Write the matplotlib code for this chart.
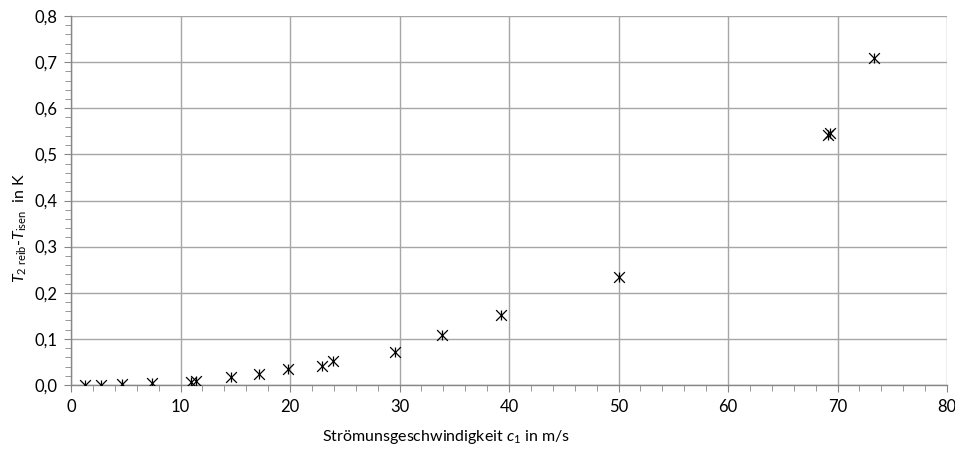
import numpy as np
import matplotlib
matplotlib.use("Agg")
import matplotlib.pyplot as plt
from matplotlib.ticker import MultipleLocator, FuncFormatter

# Messwerte
geschw = [1.3, 2.7, 4.7, 7.4, 11.0, 11.4, 14.65, 17.2, 19.8, 22.9, 23.9,
          29.6, 33.9, 39.3, 50.0, 69.1, 69.3, 73.3]
delta_t = [0.001, 0.001, 0.002, 0.005, 0.007, 0.009, 0.018, 0.023, 0.035, 0.042, 0.053,
           0.071, 0.109, 0.151, 0.234, 0.541, 0.546, 0.709]

plt.rcParams['font.family'] = ['Lato', 'DejaVu Sans']
plt.rcParams['mathtext.fontset'] = 'custom'
plt.rcParams['mathtext.rm'] = 'Lato'
plt.rcParams['mathtext.it'] = 'Lato:italic'

fig = plt.figure(figsize=(9.55, 4.5), dpi=100)
# Plotbereich: x 71..947 px, y 16..385 px
ax = fig.add_axes([71 / 955, 1 - 385 / 450, 876 / 955, 369 / 450])

achse = '#868686'
gitter = '#a6a6a6'

ax.scatter(geschw, delta_t, marker='x', s=60, color='black', linewidths=0.9, zorder=3)
ax.scatter(geschw, delta_t, marker='|', s=60, color='black', linewidths=0.9, zorder=3)

ax.set_xlim(0, 80)
ax.set_ylim(0, 0.8)
ax.xaxis.set_major_locator(MultipleLocator(10))
ax.xaxis.set_minor_locator(MultipleLocator(2))
ax.yaxis.set_major_locator(MultipleLocator(0.1))
ax.yaxis.set_minor_locator(MultipleLocator(0.02))
ax.yaxis.set_major_formatter(FuncFormatter(lambda v, p: f"{v:.1f}".replace('.', ',')))
ax.xaxis.set_major_formatter(FuncFormatter(lambda v, p: f"{v:.0f}"))

ax.grid(True, which='major', color=gitter, linewidth=1.0)
ax.set_axisbelow(True)
for s in ['top', 'right']:
    ax.spines[s].set_visible(False)
for s in ['left', 'bottom']:
    ax.spines[s].set_color(achse)
    ax.spines[s].set_linewidth(1.0)

ax.tick_params(which='major', direction='out', length=5, color=achse, labelsize=12,
               labelcolor='black', pad=5)
ax.tick_params(which='minor', direction='out', length=4, color=achse)

ax.set_xlabel(r'Strömunsgeschwindigkeit $c_1$ in m/s', fontsize=11.5, va='center')
ax.set_ylabel(r'$T_{2\ \mathrm{reib}}$-$T_{\mathrm{isen}}$  in K', fontsize=11.5, va='center')
# Beschriftungen wie im Original leicht aus der Mitte versetzt
ax.xaxis.set_label_coords(0.428, -0.141)
ax.yaxis.set_label_coords(-0.058, 0.425)

fig.savefig('out.png', dpi=100)
